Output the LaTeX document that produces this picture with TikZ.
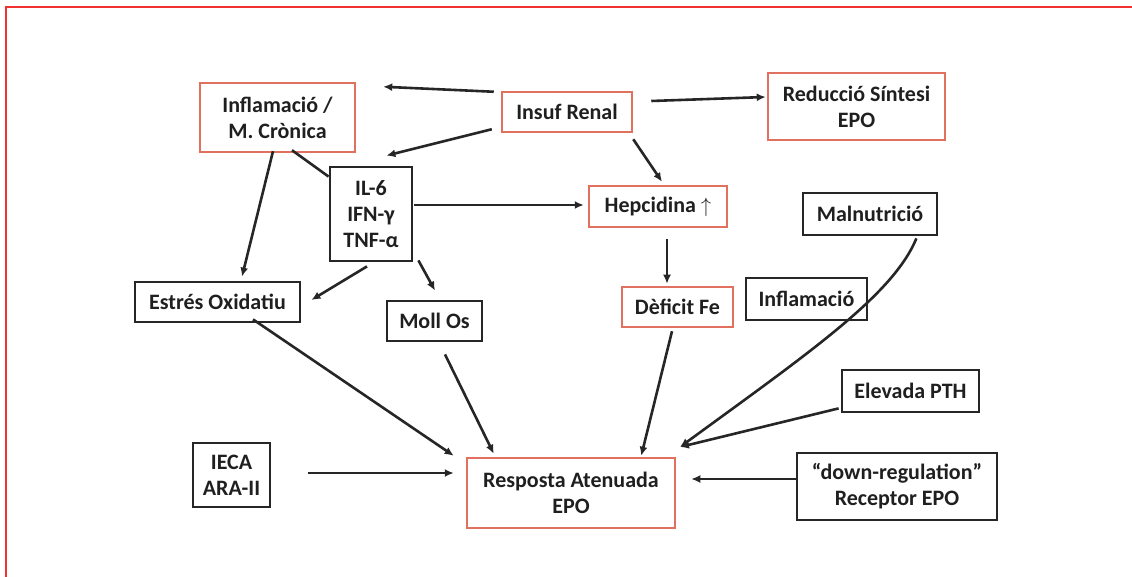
\documentclass[tikz,border=0pt]{standalone}
\usepackage{fontspec}
\setmainfont{Carlito}
\usetikzlibrary{calc,arrows.meta}
\definecolor{boxred}{RGB}{226,112,94}
\definecolor{framered}{RGB}{242,48,48}
\tikzstyle{redbox} = [draw=boxred, line width=2.5pt, align=center, inner sep=2pt, text=black!88, font=\fontsize{22}{26}\selectfont\bfseries]
\tikzstyle{blackbox} = [redbox, draw=black!85, line width=2.8pt]
\tikzstyle{arr} = [-{Latex[length=9pt,width=8pt]}, line width=2.6pt, black!85]

\begin{document}
\begin{tikzpicture}[x=1pt,y=-1pt]
	\useasboundingbox (0,0) rectangle (1132,577);
	\draw[framered, line width=1.6pt] (6,577) -- (6,7) -- (1132,7);
	% upper row
	\node[redbox, minimum width=155pt, minimum height=69pt] (inflam) at (277.5,117.5) {Inflamació /\\M. Crònica};
	\node[redbox, minimum width=130pt, minimum height=40pt] (renal) at (567,112) {Insuf Renal};
	\node[redbox, minimum width=177pt, minimum height=67pt] (sintesi) at (856.5,106.5) {Reducció Síntesi\\EPO};
	\node[blackbox, minimum width=82pt, minimum height=94pt] (il6) at (371,214) {IL-6\\IFN-γ\\TNF-α};
	\node[redbox, minimum width=138pt, minimum height=41pt] (hepc) at (658,206.5) {Hepcidina $\uparrow$};
	\node[blackbox, minimum width=134pt, minimum height=42pt] (malnut) at (870,214) {Malnutrició};
	% middle row
	\node[blackbox, minimum width=165pt, minimum height=40pt] (estres) at (217.5,302) {Estrés Oxidatiu};
	\node[blackbox, minimum width=95pt, minimum height=40pt] (moll) at (434.5,321) {Moll Os};
	\node[redbox, minimum width=111pt, minimum height=40pt] (deficit) at (677.5,307) {Dèficit Fe};
	\node[blackbox, minimum width=121pt, minimum height=42pt] (inflamb) at (806.5,299) {Inflamació};
	\node[blackbox, minimum width=137pt, minimum height=42pt] (pth) at (910.5,391) {Elevada PTH};
	% lower row
	\node[blackbox, minimum width=77pt, minimum height=64pt] (ieca) at (231.5,475) {IECA\\ARA-II};
	\node[redbox, minimum width=208pt, minimum height=70pt] (resposta) at (571,493) {Resposta Atenuada\\EPO};
	\node[blackbox, minimum width=200pt, minimum height=67pt] (downreg) at (897,486.5) {“down-regulation”\\Receptor EPO};
	\coordinate (meet) at (680,447);
	% connectors
	\draw[arr] ($(renal.north west)+(-7,1)$) -- ($(inflam.north east)+(27,5)$);
	\draw[arr] ($(renal.south west)+(-9,-4)$) -- ($(il6.north east)+(-27,-10)$);
	\draw[arr] ($(renal.east)+(18,-11)$) -- ($(sintesi.west)+(-1,-9.5)$);
	\draw[arr] ($(renal.south east)+(0,6)$) -- ($(hepc.north)+(4,-3)$);
	\draw[line width=2.6pt, black!85] ($(inflam.south)+(14.5,-3)$) -- ($(il6.north west)+(0,11)$);
	\draw[arr] ($(inflam.south)+(-4.5,-2)$) -- ($(estres.north)+(24.5,-4)$);
	\draw[arr] ($(il6.east)+(1,-9)$) -- ($(hepc.west)+(-4,-1.5)$);
	\draw[arr] ($(il6.south)+(-4,4)$) -- ($(estres.east)+(10,-2)$);
	\draw[arr] ($(il6.south east)+(5,-2)$) -- ($(moll.north)+(0.5,-9)$);
	\draw[arr] ($(hepc.south)+(9,11)$) -- ($(deficit.north)+(-10.5,-2)$);
	\draw[arr] ($(estres.south)+(35.5,-4)$) -- ($(resposta.north west)+(-12,-1)$);
	\draw[arr] ($(moll.south)+(10.5,12)$) -- ($(resposta.north west)+(28,-3)$);
	\draw[arr] ($(deficit.south)+(-5.5,3)$) -- ($(resposta.north east)+(-35,-1)$);
	\draw[arr] ($(malnut.south east)+(-22,2)$) .. controls (893,295) and (810,352) .. (meet);
	\draw[arr] ($(pth.south west)+(-2,-5)$) -- (meet);
	\draw[arr] ($(ieca.east)+(37,-2)$) -- ($(resposta.west)+(-12,-20)$);
	\draw[arr] ($(downreg.west)+(0,-7.5)$) -- ($(resposta.east)+(15,-14)$);
\end{tikzpicture}
\end{document}
